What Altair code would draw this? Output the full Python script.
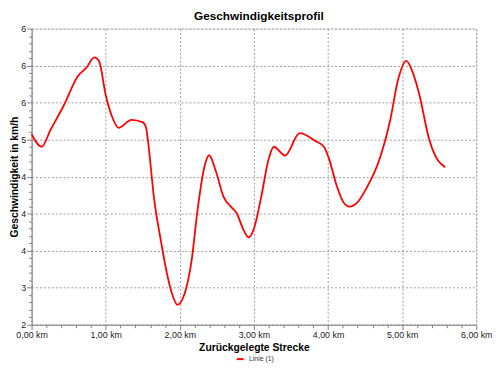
import json
import altair as alt
import pandas as pd

TITLE = "Geschwindigkeitsprofil"
X_TITLE = "Zurückgelegte Strecke"
Y_TITLE = "Geschwindigkeit in km/h"
SERIES = "Linie (1)"
# tick labels exactly as printed on the reference y axis (bottom to top)
Y_TICK_LABELS = ["2", "3", "4", "4", "4", "5", "6", "6", "6"]

X_KM = [0.000, 0.135, 0.258, 0.432, 0.628, 0.737, 0.847, 0.912, 0.999, 1.086,
        1.174, 1.348, 1.501, 1.545, 1.567, 1.653, 1.741, 1.829, 1.894, 1.967,
        2.090, 2.156, 2.242, 2.330, 2.395, 2.483, 2.592, 2.700, 2.766, 2.853,
        2.928, 3.006, 3.093, 3.203, 3.268, 3.420, 3.617, 3.835, 3.944, 4.009,
        4.119, 4.205, 4.293, 4.402, 4.533, 4.686, 4.839, 4.948, 5.056, 5.144,
        5.232, 5.363, 5.449, 5.580]
SPEED = [4.574, 4.404, 4.638, 4.958, 5.363, 5.469, 5.610, 5.555, 5.107, 4.809,
         4.660, 4.766, 4.733, 4.660, 4.510, 3.701, 3.151, 2.678, 2.422, 2.269,
         2.508, 2.848, 3.573, 4.127, 4.289, 4.084, 3.722, 3.582, 3.509, 3.295,
         3.180, 3.317, 3.701, 4.254, 4.404, 4.285, 4.587, 4.477, 4.404, 4.254,
         3.871, 3.659, 3.595, 3.659, 3.871, 4.212, 4.766, 5.321, 5.564, 5.405,
         5.107, 4.510, 4.276, 4.127]

df = pd.DataFrame({"km": X_KM, "v": SPEED, "series": [SERIES] * len(X_KM)})

FONT = "Liberation Sans"
y_ticks = [round(2 + 0.1 * i, 1) for i in range(41)]
x_ticks = [round(0.2 * i, 1) for i in range(31)]
y_major = "abs(datum.value*2 - round(datum.value*2)) < 0.01"
x_major = "abs(datum.value - round(datum.value)) < 0.01"
y_label_expr = (f"({y_major}) ? {json.dumps(Y_TICK_LABELS)}[round((datum.value-2)*2)] : ''")
x_label_expr = (f"({x_major}) ? replace(format(datum.value, '.2f'), '.', ',') + ' km' : ''")

common_axis = dict(
    grid=True,
    gridColor="#9a9a9a",
    gridDash=[2, 2],
    gridWidth=1,
    domainColor="#808080",
    tickColor="#808080",
    labelFont=FONT,
    labelFontSize=9,
    labelColor="#222222",
    titleFont=FONT,
    titleFontSize=10.5,
    titleFontWeight="bold",
    titleColor="#000000",
)

x_axis = alt.Axis(
    values=x_ticks,
    labelExpr=x_label_expr,
    title=X_TITLE,
    labelPadding=1,
    titlePadding=3,
    labelFlush=False,
    labelOverlap=False,
    tickSize={"condition": {"test": x_major, "value": 5}, "value": 3},
    gridOpacity={"condition": {"test": x_major, "value": 1}, "value": 0},
    **common_axis,
)
y_axis = alt.Axis(
    values=y_ticks,
    labelExpr=y_label_expr,
    title=Y_TITLE,
    labelPadding=1,
    titlePadding=1,
    labelOverlap=False,
    labelFlush=False,
    tickSize={"condition": {"test": y_major, "value": 5}, "value": 3},
    gridOpacity={"condition": {"test": y_major, "value": 1}, "value": 0},
    **common_axis,
)

chart = (
    alt.Chart(df)
    .mark_line(strokeWidth=1.8, interpolate="monotone")
    .encode(
        x=alt.X("km:Q", scale=alt.Scale(domain=[0, 6], nice=False, zero=False), axis=x_axis),
        y=alt.Y("v:Q", scale=alt.Scale(domain=[2, 6], nice=False, zero=False), axis=y_axis),
        color=alt.Color(
            "series:N",
            scale=alt.Scale(domain=[SERIES], range=["#ff0000"]),
            legend=alt.Legend(
                title=None,
                orient="none",
                legendX=207,
                legendY=331,
                symbolType="stroke",
                symbolSize=50,
                symbolStrokeWidth=2,
                labelFont=FONT,
                labelFontSize=7,
                labelColor="#333333",
                padding=0,
            ),
        ),
    )
    .properties(
        width=452,
        height=301,
        autosize=alt.AutoSizeParams(type="none"),
        padding={"left": 24, "top": 18, "right": 16, "bottom": 36},
        title=alt.TitleParams(TITLE, font=FONT, fontSize=12, fontWeight="bold",
                              color="#000000", offset=2, dx=5, anchor="middle"),
    )
    .configure_view(stroke=None)
    .configure(background="white")
)

chart.save("out.html", embed_options={"renderer": "svg", "actions": False})
